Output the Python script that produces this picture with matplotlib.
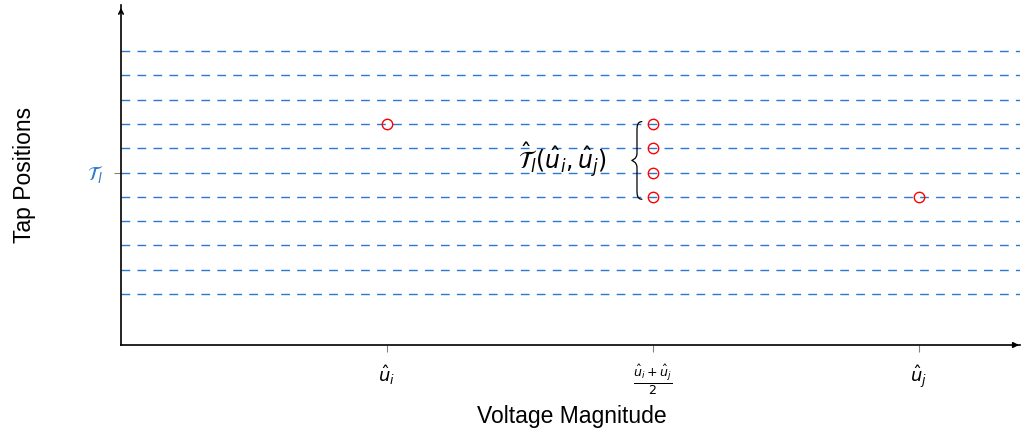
import numpy as np
import matplotlib.pyplot as plt
from matplotlib.path import Path
from matplotlib.patches import PathPatch

# tap position levels (dashed lines) and the tap level T_l
tap_levels = np.arange(1, 12)
tap_level_l = 6

# voltage positions: u_i, midpoint, u_j
x_ticks = [1, 2, 3]
x_ticklabels = [r'$\hat{u}_i$', r'$\frac{\hat{u}_i+\hat{u}_j}{2}$', r'$\hat{u}_j$']

# tap positions reached at each voltage
pts_x = [1, 2, 2, 2, 2, 3]
pts_y = [8, 8, 7, 6, 5, 5]

blue = '#2a7ad0'

fig = plt.figure(figsize=(10.22, 4.36), dpi=100)
ax = fig.add_axes([121/1022, (436-345)/436, (1020-121)/1022, (345-5)/436])
ax.set_xlim(0, 3.38)
ax.set_ylim(-1.1, 12.9)

for lv in tap_levels:
    ax.axhline(lv, color=blue, lw=1, dashes=(6.3, 5.2), zorder=1)

ax.plot(pts_x, pts_y, 'o', mfc='none', mec='red', ms=7.5, mew=1, zorder=3)

# curly brace grouping the midpoint taps
def brace(ax, x, y0, y1, w):
    ym = (y0 + y1) / 2
    verts = [(x, y1),
             (x - w, y1), (x - w, y1 - 0.2), (x - w, y1 - 0.4),
             (x - w, ym + 0.3),
             (x - w, ym + 0.05), (x - 2*w, ym), (x - 2*w, ym),
             (x - 2*w, ym), (x - w, ym - 0.05), (x - w, ym - 0.3),
             (x - w, y0 + 0.4),
             (x - w, y0 + 0.2), (x - w, y0), (x, y0)]
    codes = [Path.MOVETO,
             Path.CURVE4, Path.CURVE4, Path.CURVE4,
             Path.LINETO,
             Path.CURVE4, Path.CURVE4, Path.CURVE4,
             Path.CURVE4, Path.CURVE4, Path.CURVE4,
             Path.LINETO,
             Path.CURVE4, Path.CURVE4, Path.CURVE4]
    ax.add_patch(PathPatch(Path(verts, codes), fc='none', ec='black', lw=0.9, zorder=2))

brace(ax, 1.96, 4.9, 8.1, 0.02)
ax.text(1.66, 6.5, r'$\hat{\mathcal{T}}_l(\hat{u}_i,\hat{u}_j)$', fontsize=17,
        ha='center', va='center', zorder=4)

ax.set_xticks(x_ticks)
ax.set_xticklabels(x_ticklabels, fontsize=13)
ax.set_yticks([tap_level_l])
ax.set_yticklabels([r'$\mathcal{T}_l$'], fontsize=14, color=blue)
ax.tick_params(axis='both', length=5, color='gray', width=0.8, pad=8)

for s in ['top', 'right']:
    ax.spines[s].set_visible(False)
for s in ['left', 'bottom']:
    ax.spines[s].set_linewidth(1.2)

# axis arrows
ax.annotate('', xy=(1.002, 0), xytext=(0.99, 0), xycoords='axes fraction',
            arrowprops=dict(arrowstyle='-|>', color='black', lw=1.2, mutation_scale=8))
ax.annotate('', xy=(0, 1.0), xytext=(0, 0.97), xycoords='axes fraction',
            arrowprops=dict(arrowstyle='->', color='black', lw=1.2, mutation_scale=8))

fig.text(572/1022, 1 - 416/436, 'Voltage Magnitude', fontsize=16.5,
         family='Liberation Sans', ha='center', va='center')
fig.text(24/1022, 1 - 175/436, 'Tap Positions', fontsize=16.5,
         family='Liberation Sans', ha='center', va='center', rotation=90)

fig.savefig('out.png', dpi=100)
